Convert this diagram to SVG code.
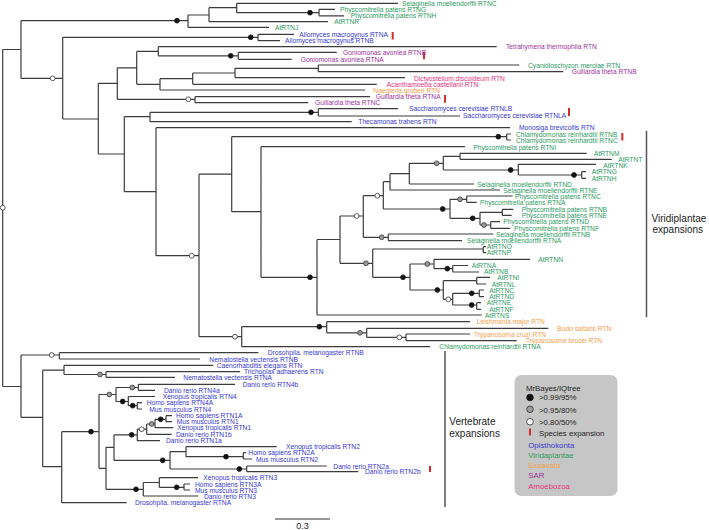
<svg xmlns="http://www.w3.org/2000/svg" width="709" height="530" viewBox="0 0 709 530">
<style>
.t{font-family:"Liberation Sans",Arial,Helvetica,sans-serif;font-size:6.7px}
.lg{font-family:"Liberation Sans",Arial,Helvetica,sans-serif;font-size:7.8px;fill:#222}
.big{font-family:"Liberation Sans",Arial,Helvetica,sans-serif;font-size:10px;fill:#222}
.b{fill:#3838d0}.g{fill:#2f9a5f}.o{fill:#f29d4b}.p{fill:#9b339b}.m{fill:#e8337f}
.tree{fill:none;stroke:#3c3c3c;stroke-width:1.2}
.d1{fill:#111;stroke:#111;stroke-width:0.8}
.d2{fill:#9a9a9a;stroke:#333;stroke-width:0.8}
.d3{fill:#fff;stroke:#333;stroke-width:0.8}
.rb{stroke:#d42a2a;stroke-width:2}
.bar{stroke:#555;stroke-width:1.5}
</style>
<rect width="709" height="530" fill="#fff"/>
<g id="connectors" class="tree">
<path d="M2.7,49.5V386.5M2.7,49.5H21M2.7,386.5H21
M21,20.7V78.3M21,20.7H188M21,78.3H62.7
M188,15V27.3M188,15H209M188,27.3H269
M209,7.7V21.7M209,7.7H236.7M209,21.7H328
M236.7,3.3V12.7M236.7,3.3H398M236.7,12.7H319
M319,9.3V15.8M319,9.3H335M319,15.8H344
M62.7,37.3V119M62.7,37.3H258M62.7,119H98.3
M258,34.3V40.7M258,34.3H294M258,40.7H280
M98.3,83.3V154M98.3,83.3H117.3M98.3,154H124.3
M117.3,67.8V99.3M117.3,67.8H136.7M117.3,99.3H195
M136.7,51.4V84.3M136.7,51.4H158.3M136.7,84.3H160
M158.3,46.7V55.8M158.3,46.7H496.7M158.3,55.8H238.3
M238.3,52.3V59.3M238.3,52.3H336.7M238.3,59.3H291.7
M160,78.7V90M160,78.7H192.7M160,90H365
M192.7,73V84.3M192.7,73H235M192.7,84.3H376.7
M235,68.3V77.7M235,68.3H318.3M235,77.7H405
M318.3,65V71.7M318.3,65H519.3M318.3,71.7H563.3
M195,96.7V102.7M195,96.7H370M195,102.7H308.3
M124.3,116.7V191.7M124.3,116.7H150M124.3,191.7H156
M150,112.3V121.7M150,112.3H318.3M150,121.7H351.7
M318.3,108.7V116M318.3,108.7H398M318.3,116H460
M156,127.7V255.7M156,127.7H510M156,255.7H199
M199,174.2V336.7M199,174.2H231.7M199,336.7H241.7
M231.7,136.7V211.7M231.7,136.7H506.7M231.7,211.7H261
M506.7,134V140M506.7,134H511M506.7,140H511
M261,146.7V277.3M261,146.7H465M261,277.3H317
M317,239.5V315M317,239.5H340M317,315H481.7
M340,216V263.3M340,216H363.3M340,263.3H372.7
M363.3,195.7V237.3M363.3,195.7H383.3M363.3,237.3H388.3
M383.3,181.7V209M383.3,181.7H390M383.3,209H450
M390,173.7V190M390,173.7H409.3M390,190H500
M409.3,163.3V184M409.3,163.3H443.3M409.3,184H474
M443.3,156.3V170M443.3,156.3H460M443.3,170H518.3
M460,153.3V159.3M460,153.3H586.7M460,159.3H611.7
M518.3,164.3V175M518.3,164.3H596M518.3,175H581.7
M581.7,171.7V178.3M581.7,171.7H586M581.7,178.3H586
M450,199.3V218.3M450,199.3H466.7M450,218.3H480
M466.7,196V202.3M466.7,196H512.7M466.7,202.3H476.7
M480,212.3V225M480,212.3H502.3M480,225H490.7
M502.3,209.3V215.3M502.3,209.3H513.3M502.3,215.3H511.7
M490.7,221.7V228.3M490.7,221.7H500M490.7,228.3H510
M388.3,234V240.7M388.3,234H493.3M388.3,240.7H462
M372.7,249V277.3M372.7,249H483.3M372.7,277.3H410
M483.3,246.7V252.7M483.3,246.7H486M483.3,252.7H486
M410,264V290M410,264H434M410,290H443.3
M434,259.3V268.7M434,259.3H530M434,268.7H452.7
M452.7,265.5V272M452.7,265.5H468M452.7,272H479
M443.3,280.7V299.3M443.3,280.7H476.7M443.3,299.3H452.7
M476.7,277.3V284M476.7,277.3H490M476.7,284H486
M452.7,293.3V305M452.7,293.3H479.3M452.7,305H476.7
M479.3,290V296.7M479.3,290H484M479.3,296.7H484
M476.7,302.7V309.3M476.7,302.7H481M476.7,309.3H481
M241.7,326.7V346.7M241.7,326.7H326.7M241.7,346.7H430
M326.7,321.7V332.8M326.7,321.7H470M326.7,332.8H366.7
M366.7,328.3V337.3M366.7,328.3H548.3M366.7,337.3H406
M406,334V340.7M406,334H470M406,340.7H516.7
M21,355V417.3M21,355H59.3M21,417.3H42.7
M59.3,352.7V359M59.3,352.7H258.3M59.3,359H200
M42.7,370.2V466.7M42.7,370.2H64M42.7,466.7H61.7
M64,365.3V374.5M64,365.3H213.3M64,374.5H106
M106,371.7V377.3M106,371.7H240M106,377.3H175
M61.7,431.7V502.7M61.7,431.7H99M61.7,502.7H126.7
M99,394.5V468.3M99,394.5H116M99,468.3H106
M116,387.5V401.5M116,387.5H138.3M116,401.5H128.3
M138.3,384.3V390.3M138.3,384.3H235M138.3,390.3H155
M128.3,396.5V405.7M128.3,396.5H155M128.3,405.7H137.3
M137.3,402.7V409M137.3,402.7H142M137.3,409H142
M106,447.3V489.3M106,447.3H114M106,489.3H143.3
M114,434.8V460.3M114,434.8H137.3M114,460.3H170
M137.3,429.2V440.7M137.3,429.2H146.7M137.3,440.7H160
M146.7,424V434.3M146.7,424H155M146.7,434.3H171.7
M155,419.3V427.7M155,419.3H166M155,427.7H173.3
M166,415.7V421.7M166,415.7H172M166,421.7H172
M170,451.7V469M170,451.7H186M170,469H246.7
M186,446.7V456.7M186,446.7H276.7M186,456.7H243.3
M243.3,452.7V459M243.3,452.7H246M243.3,459H252
M246.7,466V471.7M246.7,466H326.7M246.7,471.7H358.3
M143.3,482.5V496M143.3,482.5H159.3M143.3,496H198.3
M159.3,477.7V487.3M159.3,477.7H198M159.3,487.3H184
M184,484V490M184,484H190M184,490H190"/>
</g>
<g id="supports">
<circle class="d1" cx="177" cy="20.7" r="2.4"/>
<circle class="d3" cx="52.7" cy="78.3" r="2.4"/>
<circle class="d3" cx="2.7" cy="207.7" r="2.4"/>
<circle class="d1" cx="250.7" cy="37.3" r="2.4"/>
<circle class="d1" cx="230.7" cy="55.8" r="2.4"/>
<circle class="d1" cx="310" cy="12.7" r="2.4"/>
<circle class="d3" cx="188.3" cy="99.3" r="2.4"/>
<circle class="d1" cx="311" cy="112.3" r="2.4"/>
<circle class="d3" cx="191.7" cy="255.7" r="2.4"/>
<circle class="d1" cx="498.3" cy="136.7" r="2.4"/>
<circle class="d1" cx="310" cy="277.3" r="2.4"/>
<circle class="d3" cx="356.7" cy="216" r="2.4"/>
<circle class="d3" cx="377.3" cy="195.7" r="2.4"/>
<circle class="d2" cx="436.7" cy="163.3" r="2.4"/>
<circle class="d1" cx="510.7" cy="170" r="2.4"/>
<circle class="d1" cx="574" cy="175" r="2.4"/>
<circle class="d1" cx="442.7" cy="209" r="2.4"/>
<circle class="d2" cx="460" cy="199.3" r="2.4"/>
<circle class="d1" cx="472.7" cy="218.3" r="2.4"/>
<circle class="d2" cx="484" cy="225" r="2.4"/>
<circle class="d2" cx="381.7" cy="237.3" r="2.4"/>
<circle class="d2" cx="366" cy="263.3" r="2.4"/>
<circle class="d1" cx="403" cy="277.3" r="2.4"/>
<circle class="d2" cx="427.3" cy="264" r="2.4"/>
<circle class="d1" cx="447.3" cy="268.7" r="2.4"/>
<circle class="d1" cx="437.3" cy="290" r="2.4"/>
<circle class="d3" cx="448.3" cy="299.3" r="2.4"/>
<circle class="d1" cx="471.7" cy="293.3" r="2.4"/>
<circle class="d1" cx="471.7" cy="305" r="2.4"/>
<circle class="d3" cx="235" cy="336.7" r="2.4"/>
<circle class="d1" cx="319.3" cy="326.7" r="2.4"/>
<circle class="d2" cx="360" cy="332.8" r="2.4"/>
<circle class="d3" cx="399.3" cy="337.3" r="2.4"/>
<circle class="d3" cx="51.7" cy="355" r="2.4"/>
<circle class="d2" cx="100" cy="374.5" r="2.4"/>
<circle class="d1" cx="91" cy="431.7" r="2.4"/>
<circle class="d2" cx="109.3" cy="394.5" r="2.4"/>
<circle class="d2" cx="132.3" cy="387.5" r="2.4"/>
<circle class="d1" cx="122.7" cy="401.5" r="2.4"/>
<circle class="d1" cx="132.7" cy="405.7" r="2.4"/>
<circle class="d1" cx="131.7" cy="434.8" r="2.4"/>
<circle class="d3" cx="141.7" cy="429.2" r="2.4"/>
<circle class="d2" cx="151.7" cy="424" r="2.4"/>
<circle class="d1" cx="160.7" cy="419.3" r="2.4"/>
<circle class="d1" cx="162.7" cy="460.3" r="2.4"/>
<circle class="d1" cx="226" cy="456.7" r="2.4"/>
<circle class="d1" cx="239.3" cy="469" r="2.4"/>
<circle class="d1" cx="136" cy="489.3" r="2.4"/>
<circle class="d1" cx="176.7" cy="487.3" r="2.4"/>
</g>
<g id="expansion-bars">
<line class="rb" x1="392.7" y1="32" x2="392.7" y2="39.5"/>
<line class="rb" x1="424" y1="51.7" x2="424" y2="59.3"/>
<line class="rb" x1="445" y1="95" x2="445" y2="102.7"/>
<line class="rb" x1="569" y1="108" x2="569" y2="116"/>
<line class="rb" x1="622.3" y1="133" x2="622.3" y2="140.5"/>
<line class="rb" x1="430" y1="466" x2="430" y2="472"/>
</g>
<g class="t">
<g id="l01"><text class="g" x="402" y="5.8">Selaginella moellendorffii RTNC</text></g>
<g id="l02"><text class="g" x="340" y="11.8">Physcomitrella patens RTNG</text></g>
<g id="l03"><text class="g" x="350.7" y="18">Physcomitrella patens RTNH</text></g>
<g id="l04"><text class="g" x="334.3" y="24.2">AtRTNR</text></g>
<g id="l05"><text class="g" x="275" y="30.4">AtRTNJ</text></g>
<g id="l06"><text class="b" x="299.3" y="36.8">Allomyces macrogynus RTNA</text></g>
<g id="l07"><text class="b" x="285" y="43.2">Allomyces macrogynus RTNB</text></g>
<g id="l08"><text class="p" x="506" y="49.2">Tetrahymena thermophila RTN</text></g>
<g id="l09"><text class="p" x="343" y="54.8">Goniomonas avonlea RTNB</text></g>
<g id="l10"><text class="p" x="300.7" y="61.8">Goniomonas avonlea RTNA</text></g>
<g id="l11"><text class="g" x="528" y="67.5">Cyanidioschyzon merolae RTN</text></g>
<g id="l12"><text class="p" x="571.7" y="74.2">Guillardia theta RTNB</text></g>
<g id="l13"><text class="m" x="414" y="80.6">Dictyostelium discoideum RTN</text></g>
<g id="l14"><text class="m" x="386.7" y="86.8">Acanthamoeba castellanii RTN</text></g>
<g id="l15"><text class="o" x="373.3" y="92.5">Naegleria gruberi RTN</text></g>
<g id="l16"><text class="p" x="375.7" y="99.2">Guillardia theta RTNA</text></g>
<g id="l17"><text class="p" x="315" y="105.2">Guillardia theta RTNC</text></g>
<g id="l18"><text class="b" x="409" y="111.4">Saccharomyces cerevisiae RTNLB</text></g>
<g id="l19"><text class="b" x="463" y="118.2">Saccharomyces cerevisiae RTNLA</text></g>
<g id="l20"><text class="b" x="358.3" y="124.2">Thecamonas trahens RTN</text></g>
<g id="l21"><text class="b" x="519" y="130.2">Monosiga brevicollis RTN</text></g>
<g id="l22"><text class="g" x="516" y="136.5">Chlamydomonas reinhardtii RTNB</text></g>
<g id="l23"><text class="g" x="516" y="142.5">Chlamydomonas reinhardtii RTNC</text></g>
<g id="l24"><text class="g" x="473.3" y="149.6">Physcomitrella patens RTNI</text></g>
<g id="l25"><text class="g" x="594" y="155.8">AtRTNM</text></g>
<g id="l26"><text class="g" x="618.3" y="161.8">AtRTNT</text></g>
<g id="l27"><text class="g" x="603.3" y="167.5">AtRTNK</text></g>
<g id="l28"><text class="g" x="591.7" y="174.2">AtRTNG</text></g>
<g id="l29"><text class="g" x="591.7" y="180.8">AtRTNH</text></g>
<g id="l30"><text class="g" x="477.3" y="186.5">Selaginella moellendorffii RTND</text></g>
<g id="l31"><text class="g" x="503.3" y="192.5">Selaginella moellendorffii RTNE</text></g>
<g id="l32"><text class="g" x="515" y="199">Physcomitrella patens RTNC</text></g>
<g id="l33"><text class="g" x="480" y="204.8">Physcomitrella patens RTNA</text></g>
<g id="l34"><text class="g" x="521.7" y="211.8">Physcomitrella patens RTNB</text></g>
<g id="l35"><text class="g" x="521.7" y="217.8">Physcomitrella patens RTNE</text></g>
<g id="l36"><text class="g" x="503.3" y="224.2">Physcomitrella patens RTND</text></g>
<g id="l37"><text class="g" x="514" y="230.8">Physcomitrella patens RTNF</text></g>
<g id="l38"><text class="g" x="496" y="236.5">Selaginella moellendorffii RTNB</text></g>
<g id="l39"><text class="g" x="467" y="242.8">Selaginella moellendorffii RTNA</text></g>
<g id="l40"><text class="g" x="486.7" y="249.2">AtRTNO</text></g>
<g id="l41"><text class="g" x="486.7" y="255.2">AtRTNP</text></g>
<g id="l42"><text class="g" x="538.3" y="261.8">AtRTNN</text></g>
<g id="l43"><text class="g" x="471.7" y="267.5">AtRTNA</text></g>
<g id="l44"><text class="g" x="484" y="274.2">AtRTNB</text></g>
<g id="l45"><text class="g" x="497.3" y="279.8">AtRTNI</text></g>
<g id="l46"><text class="g" x="491.7" y="286.5">AtRTNL</text></g>
<g id="l47"><text class="g" x="489.3" y="292.5">AtRTNC</text></g>
<g id="l48"><text class="g" x="489.3" y="299.2">AtRTND</text></g>
<g id="l49"><text class="g" x="486.7" y="305.2">AtRTNE</text></g>
<g id="l50"><text class="g" x="489.3" y="311.8">AtRTNF</text></g>
<g id="l51"><text class="g" x="485" y="317.5">AtRTNS</text></g>
<g id="l52"><text class="o" x="476.7" y="324.2">Leishmania major RTN</text></g>
<g id="l53"><text class="o" x="557.3" y="330.8">Bodo saltans RTN</text></g>
<g id="l54"><text class="o" x="474" y="336.5">Trypanosoma cruzi RTN</text></g>
<g id="l55"><text class="o" x="526" y="342.8">Trypanosome brucei RTN</text></g>
<g id="l56"><text class="g" x="439.3" y="349.2">Chlamydomonas reinhardtii RTNA</text></g>
<g id="l57"><text class="b" x="267.7" y="355.2">Drosohpila. melanogaster RTNB</text></g>
<g id="l58"><text class="b" x="209.3" y="361.5">Nematostella vectensis RTNB</text></g>
<g id="l59"><text class="b" x="216.7" y="367.8">Caenorhabditis elegans RTN</text></g>
<g id="l60"><text class="b" x="244" y="374.2">Trichoplax adhaerens RTN</text></g>
<g id="l61"><text class="b" x="183.3" y="379.8">Nematostella vectensis RTNA</text></g>
<g id="l62"><text class="b" x="242.7" y="386.8">Danio rerio RTN4b</text></g>
<g id="l63"><text class="b" x="164" y="392.7">Danio rerio RTN4a</text></g>
<g id="l64"><text class="b" x="162.7" y="399">Xenopus tropicalis RTN4</text></g>
<g id="l65"><text class="b" x="146.7" y="405.2">Homo sapiens RTN4A</text></g>
<g id="l66"><text class="b" x="149.3" y="411.5">Mus musculus RTN4</text></g>
<g id="l67"><text class="b" x="176" y="418.2">Homo sapiens RTN1A</text></g>
<g id="l68"><text class="b" x="176.7" y="424.2">Mus musculus RTN1</text></g>
<g id="l69"><text class="b" x="177.3" y="430.2">Xenopus tropicalis RTN1</text></g>
<g id="l70"><text class="b" x="176" y="436.8">Danio rerio RTN1b</text></g>
<g id="l71"><text class="b" x="166" y="443.2">Danio rerio RTN1a</text></g>
<g id="l72"><text class="b" x="286" y="449.2">Xenopus tropicalis RTN2</text></g>
<g id="l73"><text class="b" x="248.3" y="455.2">Homo sapiens RTN2A</text></g>
<g id="l74"><text class="b" x="256" y="461.5">Mus musculus RTN2</text></g>
<g id="l75"><text class="b" x="333.3" y="468.5">Danio rerio RTN2a</text></g>
<g id="l76"><text class="b" x="365" y="474.2">Danio rerio RTN2b</text></g>
<g id="l77"><text class="b" x="203.3" y="480.2">Xenopus tropicalis RTN3</text></g>
<g id="l78"><text class="b" x="195" y="486.5">Homo sapiens RTN3A</text></g>
<g id="l79"><text class="b" x="195" y="492.5">Mus musculus RTN3</text></g>
<g id="l80"><text class="b" x="204" y="498.5">Danio rerio RTN3</text></g>
<g id="l81"><text class="b" x="135" y="505.2">Drosohpila. melanogaster RTNA</text></g>
</g>
<g id="viridiplantae-expansions">
<line class="bar" x1="646.5" y1="131" x2="646.5" y2="317"/>
<text class="big" x="651.5" y="221.5">Viridiplantae</text>
<text class="big" x="652.5" y="233">expansions</text>
</g>
<g id="vertebrate-expansions">
<line class="bar" x1="445" y1="351" x2="445" y2="507"/>
<text class="big" x="449.3" y="425">Vertebrate</text>
<text class="big" x="449.3" y="436.8">expansions</text>
</g>
<g id="legend">
<rect x="514.5" y="375" width="103" height="121" rx="7" fill="#c6c6c6"/>
<text class="lg" x="526" y="390.5">MrBayes/IQtree</text>
<circle cx="530" cy="397.5" r="3.3" fill="#111" stroke="#111" stroke-width="0.8"/>
<text class="lg" x="539" y="400.2">&gt;0.99/95%</text>
<circle cx="530" cy="409.3" r="3.3" fill="#9a9a9a" stroke="#333" stroke-width="0.8"/>
<text class="lg" x="539" y="412.5">&gt;0.95/80%</text>
<circle cx="530" cy="421.7" r="3.3" fill="#fff" stroke="#333" stroke-width="0.8"/>
<text class="lg" x="539" y="424.5">&gt;0.80/50%</text>
<line class="rb" x1="530" y1="428.5" x2="530" y2="435.5"/>
<text class="lg" x="539" y="435.5">Species expansion</text>
<text class="lg b" x="528.3" y="448">Opisthokonta</text>
<text class="lg g" x="528.3" y="458">Viridaplantae</text>
<text class="lg o" x="528.3" y="468">Excavata</text>
<text class="lg p" x="528.3" y="478">SAR</text>
<text class="lg m" x="528.3" y="488.5">Amoebozoa</text>
</g>
<g id="scale-bar">
<line x1="275" y1="519" x2="330" y2="519" stroke="#333" stroke-width="1"/>
<text class="big" x="302.5" y="528.5" text-anchor="middle" style="font-size:9px">0.3</text>
</g>
</svg>
